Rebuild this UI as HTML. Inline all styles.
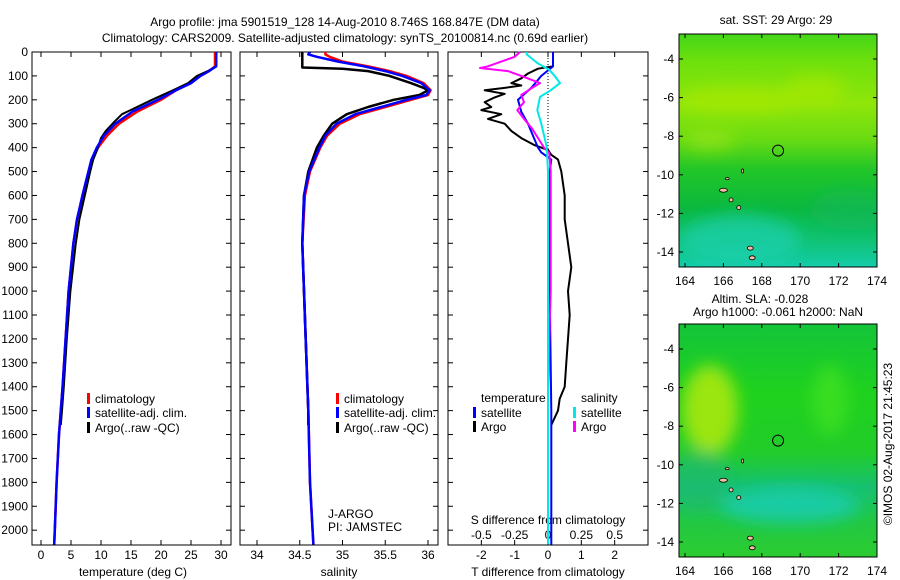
<!DOCTYPE html>
<html><head><meta charset="utf-8"><style>
body{margin:0;background:#fff;}
svg{display:block;font-family:"Liberation Sans",sans-serif;}
text{font-size:12px;fill:#000;}
</style></head><body>
<svg id="c" width="900" height="580" viewBox="0 0 900 580">
<defs>
<linearGradient id="g1" x1="0" y1="0" x2="0" y2="1">
<stop offset="0" stop-color="#44d61a"/><stop offset="0.12" stop-color="#6ee00c"/><stop offset="0.3" stop-color="#8fe60a"/><stop offset="0.45" stop-color="#6adc12"/><stop offset="0.58" stop-color="#22c628"/><stop offset="0.75" stop-color="#0bb83e"/><stop offset="0.9" stop-color="#10c47a"/><stop offset="1" stop-color="#14ccaa"/></linearGradient>
<linearGradient id="g2" x1="0" y1="0" x2="0" y2="1">
<stop offset="0" stop-color="#14c43a"/><stop offset="0.3" stop-color="#1fd21e"/><stop offset="0.55" stop-color="#22cc2a"/><stop offset="0.7" stop-color="#16c070"/><stop offset="0.85" stop-color="#22c842"/><stop offset="1" stop-color="#2ccc30"/></linearGradient>
<filter id="bl"><feGaussianBlur stdDeviation="8"/></filter>
<clipPath id="cm1"><rect x="679" y="34" width="198" height="233"/></clipPath>
<clipPath id="cm2"><rect x="679" y="324" width="198" height="233"/></clipPath>
</defs>
<text x="345" y="26" text-anchor="middle">Argo profile: jma 5901519_128 14-Aug-2010 8.746S 168.847E (DM data)</text>
<text x="345" y="42" text-anchor="middle">Climatology: CARS2009. Satellite-adjusted climatology: synTS_20100814.nc (0.69d earlier)</text>
<g id="root"></g>
</svg>
<script>
// ---- data ----
const depthTicks=[0,100,200,300,400,500,600,700,800,900,1000,1100,1200,1300,1400,1500,1600,1700,1800,1900,2000];
const tempTicks=[0,5,10,15,20,25,30];
const salTicks=[34,34.5,35,35.5,36];
const tdiffTicks=[-2,-1,0,1,2];
const sdiffTicks=[-0.5,-0.25,0,0.25,0.5];
const sdiffLabels=["-0.5","-0.25","0","0.25","0.5"];
const lonTicks=[164,166,168,170,172,174];
const latTicks=[-4,-6,-8,-10,-12,-14];

const tDepth=[0,60,80,100,130,160,200,250,300,350,400,450,500,600,700,800,1000,1200,1400,1500,1600,1800,2000,2060];
const tClim=[29,29,28,26.5,25,22.5,20,16,13,11,9.5,8.5,8,7,6,5.4,4.6,4.1,3.6,3.3,3.0,2.6,2.3,2.2];
const tSat=[29.2,29.2,28,26.6,25,22.5,19.5,15.2,12.4,10.5,9.3,8.4,7.9,6.9,6,5.4,4.6,4.1,3.6,3.3,3.0,2.6,2.3,2.2];
const argoDepth=[0,60,80,100,130,160,200,230,260,290,330,360,400,450,500,600,700,800,1000,1200,1400,1500,1560];
const tArgo=[29.2,29.2,27.8,26,24.5,22,18.5,16,13.5,12.3,10.8,10,9.5,8.7,8.2,7.3,6.4,5.8,4.9,4.3,3.8,3.5,3.3];

const sDepth=[0,10,20,40,60,80,100,130,160,180,200,230,260,300,350,400,500,600,800,1000,1200,1500,1800,2000,2060];
const sClim=[34.8,34.8,34.85,35.0,35.3,35.55,35.75,35.95,36.03,36.0,35.8,35.5,35.2,34.97,34.82,34.74,34.62,34.56,34.53,34.55,34.57,34.6,34.62,34.65,34.66];
const sSat=[34.62,34.6,34.7,34.95,35.25,35.5,35.7,35.92,36.02,35.98,35.75,35.45,35.15,34.93,34.8,34.73,34.61,34.55,34.53,34.55,34.57,34.6,34.62,34.65,34.66];
const sArgoDepth=[0,65,70,80,100,130,150,160,180,200,230,260,300,350,400,500,600,800,1000,1200,1400,1500,1560];
const sArgo=[34.53,34.53,35.0,35.3,35.55,35.8,35.95,36.0,35.9,35.6,35.3,35.05,34.88,34.78,34.7,34.6,34.55,34.53,34.55,34.57,34.59,34.6,34.6];

const dDepth=[0,60,70,90,110,130,140,150,160,175,190,210,230,243,260,280,300,330,360,390,410,430,450,500,600,700,800,900,1000,1100,1200,1300,1400,1450,1500,1560];
const dTArgo=[0.15,0.15,-0.3,-0.6,-0.8,-1.1,-0.8,-1.3,-1.9,-1.3,-1.6,-1.9,-1.7,-2.0,-1.4,-1.8,-1.3,-1.1,-0.8,-0.4,0,0.1,0.3,0.4,0.5,0.5,0.6,0.7,0.6,0.65,0.6,0.55,0.5,0.35,0.3,0.1];
const dSatDepth=[0,60,100,150,200,250,300,350,400,420,450,500,1000,1500,2060];
const dTSat=[0.15,0.15,-0.2,-0.5,-0.9,-0.8,-0.6,-0.45,-0.3,-0.2,0.1,0.05,0.05,0.1,0.1];
const dSArgoDepth=[0,20,40,60,67,80,100,130,150,180,210,243,280,320,355,400,423,500,800,1000,1200,1430];
const dSArgo=[-0.21,-0.25,-0.35,-0.45,-0.51,-0.3,-0.2,-0.06,-0.12,-0.2,-0.18,-0.23,-0.18,-0.12,-0.08,-0.03,0.01,0.02,0.02,0.02,0.01,0.0];
const dSSatDepth=[0,10,46,75,100,130,160,188,243,300,397,500,1000,1500,2060];
const dSSat=[-0.16,-0.16,-0.08,0.01,0.05,0.09,0.02,-0.06,-0.08,-0.05,-0.01,0.0,0.0,0.0,0.0];

const argoLon=[168.847], argoLat=[-8.746];

// ---- layout ----
const NS="http://www.w3.org/2000/svg";
const root=document.getElementById('root');
function el(tag,attrs,parent){const e=document.createElementNS(NS,tag);for(const k in attrs)e.setAttribute(k,attrs[k]);(parent||root).appendChild(e);return e;}
const Y0=52,Y1=545;
const yD=d=>Y0+d*(Y1-Y0)/2062;
function lin(d0,d1,p0,p1){return v=>p0+(v-d0)*(p1-p0)/(d1-d0);}
const xT=lin(0,30,41,221), xS=lin(34,36,257,428), xTd=lin(-3,3,448,648), xSd=lin(-0.75,0.75,448,648);
const panels=[{x0:32,x1:231,name:'temperature-panel'},{x0:240,x1:438,name:'salinity-panel'},{x0:448,x1:648,name:'difference-panel'}];

function line(xs,ds,fx,color,w,name){
  const pts=xs.map((v,i)=>fx(v).toFixed(1)+','+yD(ds[i]).toFixed(1)).join(' ');
  const p=el('polyline',{points:pts,fill:'none',stroke:color,'stroke-width':w,'stroke-linejoin':'round'});
  
  
}
panels.forEach((p,i)=>{
  const r=el('rect',{x:p.x0,y:Y0,width:p.x1-p.x0,height:Y1-Y0,fill:'none',stroke:'#000','stroke-width':1});
  
  
  depthTicks.forEach(d=>{
    el('line',{x1:p.x0,x2:p.x0+5,y1:yD(d),y2:yD(d),stroke:'#000'});
    el('line',{x1:p.x1,x2:p.x1-5,y1:yD(d),y2:yD(d),stroke:'#000'});
  });
});
depthTicks.forEach(d=>{
  const t=el('text',{x:28,y:yD(d)+4,'text-anchor':'end'});t.textContent=d;
  
  
});
function xticks(ticks,labels,fx,ytext,name){
  ticks.forEach((v,i)=>{
    el('line',{x1:fx(v),x2:fx(v),y1:Y0,y2:Y0+5,stroke:'#000'});
    el('line',{x1:fx(v),x2:fx(v),y1:Y1,y2:Y1-5,stroke:'#000'});
    if(ytext){const t=el('text',{x:fx(v),y:ytext,'text-anchor':'middle'});t.textContent=labels?labels[i]:v;
    
    }
  });
}
xticks(tempTicks,null,xT,559,'temp-tick-label');
xticks(salTicks,null,xS,559,'salinity-tick-label');
xticks(tdiffTicks,null,xTd,559,'tdiff-tick-label');
sdiffTicks.forEach((v,i)=>{const t=el('text',{x:xSd(v),y:539,'text-anchor':'middle'});t.textContent=sdiffLabels[i];
  
  });
function txt(x,y,s,name,anchor){const t=el('text',{x:x,y:y,'text-anchor':anchor||'start'});t.textContent=s;
  
  return t;}
txt(133,576,'temperature (deg C)','temp-axis-title','middle');
txt(339,576,'salinity','salinity-axis-title','middle');
txt(548,576,'T difference from climatology','tdiff-axis-title','middle');
txt(548,524,'S difference from climatology','sdiff-axis-title','middle');
txt(328,518,'J-ARGO','agency-label');
txt(328,531,'PI: JAMSTEC','pi-label');

// dotted zero line
el('line',{x1:xTd(0),x2:xTd(0),y1:Y0,y2:yD(420),stroke:'#000','stroke-dasharray':'1,2'});

// series
line(tClim,tDepth,xT,'#ff0000',2.5,'temp-climatology-line');
line(tArgo,argoDepth,xT,'#000',2,'temp-argo-line');
line(tSat,tDepth,xT,'#0000ff',2.5,'temp-satellite-line');
line(sClim,sDepth,xS,'#ff0000',2.5,'salinity-climatology-line');
line(sArgo,sArgoDepth,xS,'#000',2.5,'salinity-argo-line');
line(sSat,sDepth,xS,'#0000ff',2.5,'salinity-satellite-line');
line(dTArgo,dDepth,xTd,'#000',2,'tdiff-argo-line');
line(dTSat,dSatDepth,xTd,'#0000ff',2,'tdiff-satellite-line');
line(dSArgo,dSArgoDepth,xSd,'#ff00ff',2,'sdiff-argo-line');
line(dSSat,dSSatDepth,xSd,'#00e8e8',2,'sdiff-satellite-line');

// legends
function leg(x,y,color,label,name){
  el('rect',{x:x,y:y-9,width:3,height:11,fill:color});
  txt(x+8,y+1,label,name);
}
leg(87,402,'#ff0000','climatology','legend-climatology');
leg(87,416,'#0000ff','satellite-adj. clim.','legend-satellite-1');
leg(87,431,'#000','Argo(..raw -QC)','legend-argo-1');
leg(336,402,'#ff0000','climatology','legend-climatology-2');
leg(336,416,'#0000ff','satellite-adj. clim.','legend-satellite-2');
leg(336,431,'#000','Argo(..raw -QC)','legend-argo-2');
txt(481,402,'temperature','legend-temperature-heading');
leg(473,416,'#0000ff','satellite','legend-t-satellite');
leg(473,430,'#000','Argo','legend-t-argo');
txt(581,402,'salinity','legend-salinity-heading');
leg(573,416,'#00e8e8','satellite','legend-s-satellite');
leg(573,430,'#ff00ff','Argo','legend-s-argo');

// maps
const xLon=lin(164,174,685,877);
function map(top,fill,clip,name,blobs){
  const g=el('g',{'clip-path':'url(#'+clip+')'});
  
  
  el('rect',{x:679,y:top,width:198,height:233,fill:fill},g);
  const gb=el('g',{filter:'url(#bl)'},g);
  blobs.forEach(b=>el('ellipse',{cx:b[0],cy:b[1],rx:b[2],ry:b[3],fill:b[4],opacity:b[5]},gb));
  const yLat=lin(-4,-14,top+25,top+218);
  el('rect',{x:679,y:top,width:198,height:233,fill:'none',stroke:'#000'});
  lonTicks.forEach(v=>{el('line',{x1:xLon(v),x2:xLon(v),y1:top,y2:top+4,stroke:'#000'});el('line',{x1:xLon(v),x2:xLon(v),y1:top+233,y2:top+229,stroke:'#000'});
    txt(xLon(v),top+251,v,'lon-tick-label','middle');});
  latTicks.forEach(v=>{el('line',{x1:679,x2:683,y1:yLat(v),y2:yLat(v),stroke:'#000'});el('line',{x1:877,x2:873,y1:yLat(v),y2:yLat(v),stroke:'#000'});
    txt(674,yLat(v)+4,v,'lat-tick-label','end');});
  argoLon.forEach((lo,i)=>{const c=el('circle',{cx:xLon(lo),cy:yLat(argoLat[i]),r:5.5,fill:'none',stroke:'#000','stroke-width':1});
    
    });
  // islands
  [[166,-10.8,4,2],[166.4,-11.3,2,2],[166.8,-11.7,2,2],[167.4,-13.8,3,2],[167.5,-14.3,3,2],[167,-9.8,1,2],[166.2,-10.2,2,1]].forEach(s=>{
    el('ellipse',{cx:xLon(s[0]),cy:yLat(s[1]),rx:s[2],ry:s[3],fill:'#f0c0a0',stroke:'#000','stroke-width':0.8});});
}
map(34,'url(#g1)','cm1','sst-map',[[740,100,60,12,'#a8e808',0.8],[815,90,30,15,'#a8e808',0.7],[710,140,25,10,'#a0e610',0.6],[740,240,60,25,'#18d0b0',0.7],[850,210,40,20,'#10b860',0.5]]);
map(324,'url(#g2)','cm2','sla-map',[[710,410,28,45,'#a8e810',0.9],[830,400,18,35,'#40e020',0.8],[790,505,70,18,'#18ccb0',0.85],[700,480,30,30,'#1ab870',0.6]]);
txt(776,24,'sat. SST: 29 Argo: 29','sst-map-title','middle');
txt(760,303,'Altim. SLA: -0.028','sla-map-title-1','middle');
txt(778,316,'Argo h1000: -0.061 h2000: NaN','sla-map-title-2','middle');
const ts=el('text',{x:892,y:444,'text-anchor':'middle',transform:'rotate(-90 892 444)'});ts.textContent='©IMOS 02-Aug-2017 21:45:23';


</script>
</body></html>
